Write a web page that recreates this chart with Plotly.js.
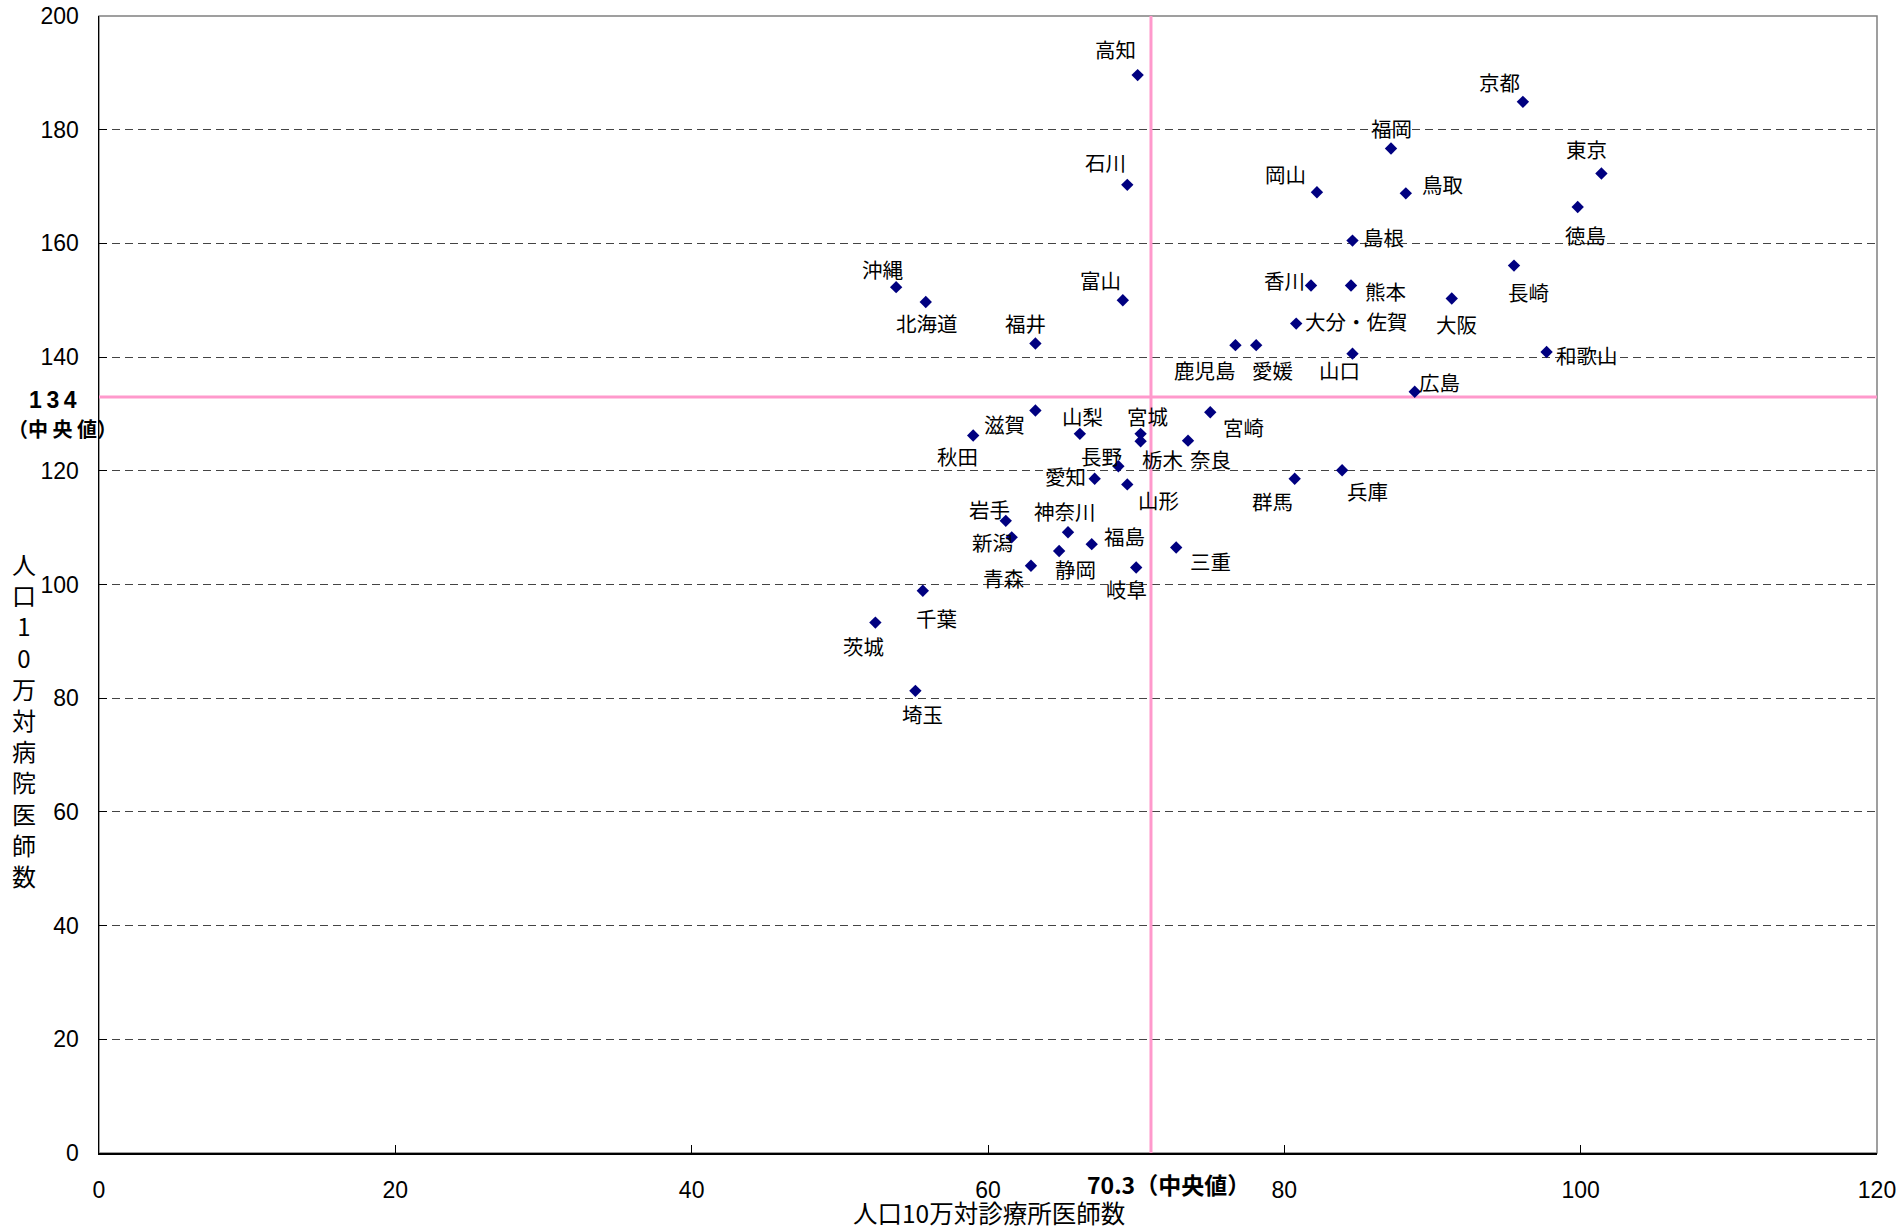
<!DOCTYPE html>
<html>
<head>
<meta charset="utf-8">
<script src="https://cdn.plot.ly/plotly-3.0.1.min.js"></script>
<style>
  html, body { margin: 0; padding: 0; background: #ffffff; }
  #chart { width: 1901px; height: 1231px; }
</style>
</head>
<body>
<div id="chart"></div>
<script>
// ---- data ----
const prefectures = ["北海道","青森","岩手","宮城","秋田","山形","福島","茨城","栃木","群馬","埼玉","千葉","東京","神奈川","新潟","富山","石川","福井","山梨","長野","岐阜","静岡","愛知","三重","滋賀","京都","大阪","兵庫","奈良","和歌山","鳥取","島根","岡山","広島","山口","徳島","香川","愛媛","高知","福岡","大分・佐賀","長崎","熊本","宮崎","鹿児島","沖縄"];
const clinicDoctors = [55.8,62.9,61.2,70.3,59.0,69.4,67.0,52.4,70.3,80.7,55.1,55.6,101.4,65.4,61.6,69.1,69.4,63.2,66.2,68.8,70.0,64.8,67.2,72.7,63.2,96.1,91.3,83.9,73.5,97.7,88.2,84.6,82.2,88.8,84.6,99.8,81.8,78.1,70.1,87.2,80.8,95.5,84.5,75.0,76.7,53.8];
const hospitalDoctors = [149.7,103.3,111.2,126.5,126.2,117.6,107.1,93.3,125.2,118.6,81.3,98.9,172.3,109.2,108.3,150.0,170.3,142.4,126.5,120.8,103.0,105.9,118.6,106.5,130.6,184.9,150.3,120.1,125.3,140.9,168.8,160.5,169.0,133.9,140.6,166.4,152.6,142.1,189.6,176.7,145.9,156.1,152.6,130.3,142.1,152.3];
const medianClinicLabel = "70.3（中央値）";
const medianHospitalLabel = "134";
const medianNote = "（中 央 値）";
const medianClinicLine = 71.0;
const medianHospitalLine = 133.0;
const xTicks = [0,20,40,60,80,100,120];
const yTicks = [0,20,40,60,80,100,120,140,160,180,200];
const xTitle = "人口10万対診療所医師数";
const yTitle = "人口10万対病院医師数";

// ---- label placement (pixel offsets: right, down) ----
const labelShift = [[1,21],[-27,12],[-16,-12],[7,-18],[-16,20],[31,16],[33,-8],[-12,23],[22,18],[-22,22],[7,23],[14,27],[-15,-24],[-3,-21],[-19,5],[-22,-20],[-22,-23],[-10,-20],[3,-18],[-17,-10],[-10,22],[16,18],[-29,-3],[34,13],[-31,13],[-23,-20],[5,25],[25,21],[22,18],[40,3],[37,-9],[31,-4],[-31,-18],[25,-10],[-13,16],[8,28],[-27,-5],[16,25],[-22,-26],[0,-20],[60,-3],[15,26],[34,6],[33,15],[-30,25],[-14,-18]];

const cjk = '"Noto Sans CJK JP", "Noto Sans", sans-serif';
const num = '"Liberation Sans", Arial, sans-serif';

const annotations = prefectures.map((p, i) => ({
  x: clinicDoctors[i], y: hospitalDoctors[i], xref: 'x', yref: 'y',
  text: p, showarrow: false, xanchor: 'center', yanchor: 'middle',
  xshift: labelShift[i][0], yshift: -labelShift[i][1],
  font: {family: cjk, size: 20.5, color: '#000000'}
}));

annotations.push({
  x: medianClinicLine, y: 0, xref: 'x', yref: 'y', text: '<b>' + medianClinicLabel + '</b>',
  showarrow: false, xanchor: 'center', yanchor: 'middle', xshift: 18, yshift: -31,
  font: {family: cjk, size: 23, color: '#000000'}
});
annotations.push({
  x: 0, y: medianHospitalLine, xref: 'paper', yref: 'y',
  text: '<b>' + medianHospitalLabel.split('').join('&#8201;') + '</b>',
  showarrow: false, xanchor: 'center', yanchor: 'middle', xshift: -46, yshift: -3,
  font: {family: num, size: 23, color: '#000000'}
});
annotations.push({
  x: 0, y: medianHospitalLine, xref: 'paper', yref: 'y', text: '<b>' + medianNote + '</b>',
  showarrow: false, xanchor: 'center', yanchor: 'middle', xshift: -37, yshift: -32,
  font: {family: cjk, size: 20, color: '#000000'}
});
annotations.push({
  x: 0, y: 0.5, xref: 'paper', yref: 'paper', text: yTitle.split('').join('<br>'),
  showarrow: false, xanchor: 'center', yanchor: 'middle', xshift: -75, yshift: -135,
  font: {family: cjk, size: 24, color: '#000000'}
});
annotations.push({
  x: 0.5, y: 0, xref: 'paper', yref: 'paper', text: xTitle,
  showarrow: false, xanchor: 'center', yanchor: 'middle', xshift: 1, yshift: -59,
  font: {family: cjk, size: 24.5, color: '#000000'}
});

const trace = {
  type: 'scatter', mode: 'markers',
  x: clinicDoctors, y: hospitalDoctors, text: prefectures,
  marker: {symbol: 'diamond', size: 9.5, color: '#000080', line: {width: 0}},
  hoverinfo: 'text+x+y', showlegend: false
};

const layout = {
  width: 1901, height: 1231,
  margin: {l: 99, r: 24, t: 16, b: 78, pad: 0},
  paper_bgcolor: '#ffffff', plot_bgcolor: '#ffffff',
  showlegend: false,
  xaxis: {
    range: [0, 120], tickvals: xTicks, ticktext: xTicks.map(String),
    showgrid: false, zeroline: false,
    showline: true, linecolor: '#000000', linewidth: 1.5,
    ticks: 'inside', ticklen: 8, tickcolor: '#000000', tickwidth: 1,
    tickfont: {family: num, size: 23, color: '#000000'},
    ticklabelstandoff: 16
  },
  yaxis: {
    range: [0, 200], tickvals: yTicks, ticktext: yTicks.map(String),
    showgrid: true, gridcolor: '#444444', gridwidth: 1, griddash: '8px,5px',
    zeroline: false,
    showline: true, linecolor: '#000000', linewidth: 1.5,
    ticks: 'inside', ticklen: 8, tickcolor: '#000000', tickwidth: 1,
    tickfont: {family: num, size: 23, color: '#000000'},
    ticklabelstandoff: 14
  },
  shapes: [
    {type: 'rect', xref: 'paper', yref: 'paper', x0: 0, x1: 1, y0: 0, y1: 1,
     line: {color: '#808080', width: 1.5}, fillcolor: 'rgba(0,0,0,0)', layer: 'below'},
    {type: 'line', xref: 'x', yref: 'y', x0: medianClinicLine, x1: medianClinicLine, y0: 0, y1: 200,
     line: {color: '#FF99CC', width: 3}, layer: 'between'},
    {type: 'line', xref: 'x', yref: 'y', x0: 0, x1: 120, y0: medianHospitalLine, y1: medianHospitalLine,
     line: {color: '#FF99CC', width: 3}, layer: 'between'}
  ],
  annotations: annotations
};

Plotly.newPlot('chart', [trace], layout, {displayModeBar: false, staticPlot: true});
</script>
</body>
</html>
